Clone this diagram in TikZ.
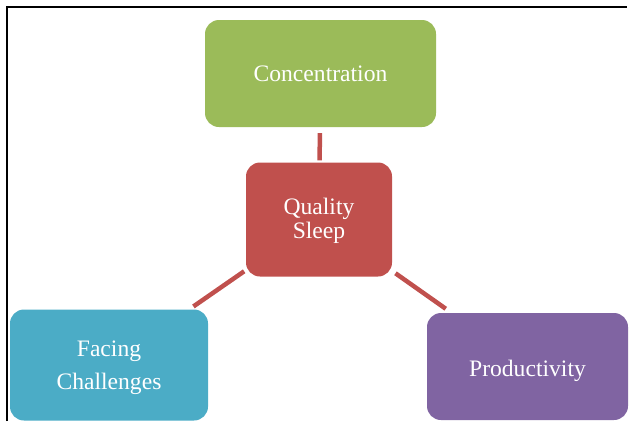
\documentclass[tikz,border=0pt]{standalone}
\usepackage{fontspec}
\setmainfont{Liberation Serif}
\definecolor{cgreen}{HTML}{9BBB59}
\definecolor{cred}{HTML}{C0504D}
\definecolor{cblue}{HTML}{4BACC6}
\definecolor{cpurple}{HTML}{8064A2}
\begin{document}
\begin{tikzpicture}[x=1pt,y=-1pt,
  box/.style={rectangle, rounded corners=14pt, inner sep=0pt, draw=none},
  caption/.style={text=white, align=center, inner sep=0pt,
    font=\fontsize{23.6}{28}\selectfont},
  link/.style={draw=cred, line width=4.5pt}]
  \useasboundingbox (0,0) rectangle (629,421);
  % frame: top and left edges
  \draw[line width=2pt] (7,421) -- (7,7) -- (627,7);
  % boxes, each with its caption placed at the centre
  \node[box, fill=cgreen, minimum width=231pt, minimum height=107pt,
        label={[caption]center:Concentration}] (conc) at (320.5,73.5) {};
  \node[box, fill=cred, minimum width=146pt, minimum height=114pt,
        label={[caption, font=\fontsize{23.6}{23.5}\selectfont, yshift=-1.5pt]center:Quality\\Sleep}] (sleep) at (319,219.5) {};
  \node[box, fill=cblue, minimum width=198pt, minimum height=111pt,
        label={[caption, font=\fontsize{23.6}{33.5}\selectfont, yshift=-2.5pt]center:Facing\\Challenges}] (face) at (109,365) {};
  \node[box, fill=cpurple, minimum width=201pt, minimum height=107pt,
        label={[caption, yshift=-4.5pt]center:Productivity}] (prod) at (527.5,366.5) {};
  % connectors
  \draw[link, shorten <=2pt, shorten >=6pt] (sleep) -- (conc);
  \draw[link, shorten <=2pt, shorten >=5pt] (sleep) -- (face);
  \draw[link, shorten <=4pt, shorten >=7pt] (sleep) -- (prod);
\end{tikzpicture}
\end{document}
